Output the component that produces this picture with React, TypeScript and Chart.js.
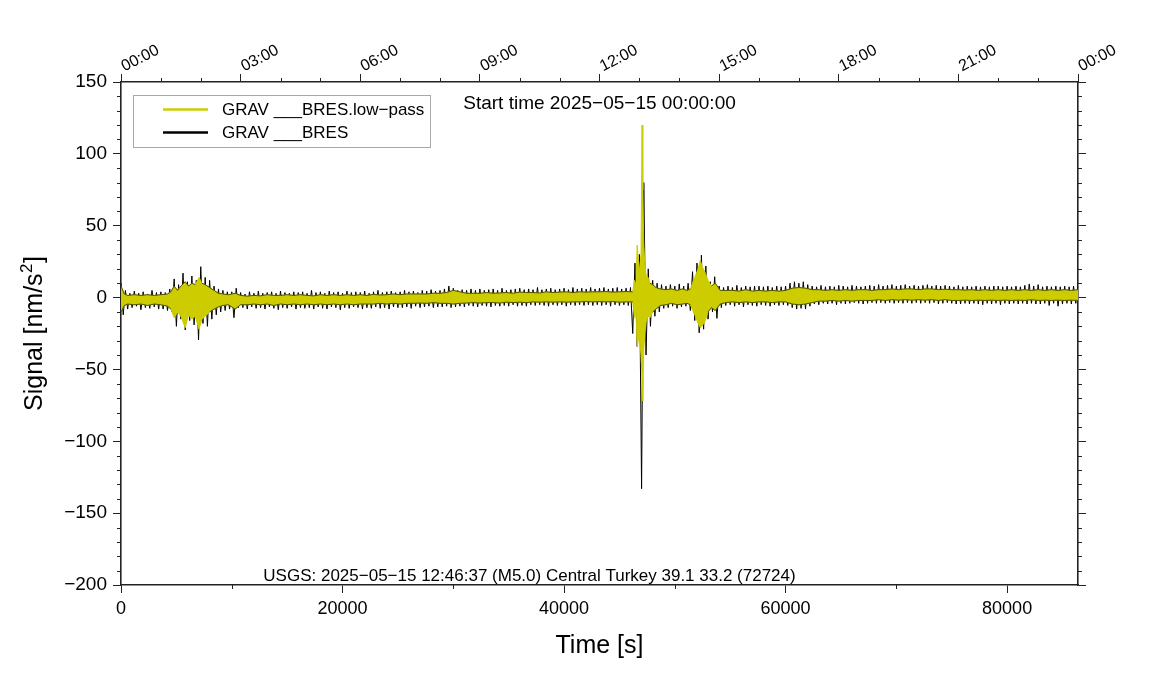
import { useEffect, useRef } from "react";
import { Chart, registerables } from "chart.js";

Chart.register(...registerables);

// ---- data (time in s, signal in nm/s^2) ----

// GRAV ___BRES (raw trace), one value every 200 s (one row = one hour)
const rawDt = 200;
const rawTrace = [
  10, -12, 5, -8, 3, -7, 4.5, -6, 3, -8.5, 4, -7, 2.5, -7.5, 5, -6.5, 3.5, -8,
  4, -8, 3.5, -9, 6, -10, 13, -20, 9, -15, 17, -22.5, 11, -16, 15, -19, 12, -29.5,
  21.5, -18, 14, -20, 12, -15, 8, -12, 6, -10, 5, -9, 4, -8, 4, -14, 6.5, -7,
  3.5, -7, 2.5, -8, 4, -6.5, 3, -7.5, 4.5, -7, 3, -8, 3.5, -6.5, 4, -7.5, 3, -8.5,
  4.5, -7, 3.5, -7.5, 3, -6.5, 4, -8, 3.5, -7, 4, -7.5, 3, -7, 5, -8, 3.5, -6.5,
  4, -7.5, 3, -8, 4.5, -6.5, 3.5, -7, 4, -8.5, 3, -7, 4.5, -7.5, 3.5, -6.5, 4, -7,
  3.5, -8, 4.5, -7, 3, -7.5, 4, -6.5, 5, -7.5, 3.5, -7, 4, -8, 4.5, -6.5, 3.5, -7,
  4, -7, 5, -6.5, 4, -7.5, 4.5, -6, 3.5, -7, 5, -6.5, 4.5, -6, 5.5, -7, 4.5, -6.5,
  5, -6.5, 6, -6, 8, -7, 6.5, -6.5, 5, -6, 5.5, -6.5, 5, -5.5, 6, -6, 5, -6.5,
  6, -5.5, 5, -6, 5.5, -6.5, 6, -5.5, 5, -6, 6.5, -5.5, 5, -6, 5.5, -5, 6, -6,
  6.5, -5.5, 5.5, -6, 6, -5, 5.5, -5.5, 7, -5, 5.5, -5.5, 6, -6, 6.5, -5, 5.5, -5.5,
  6, -5, 6.5, -6, 5.5, -5, 7, -5.5, 6, -5, 6.5, -5.5, 6, -5, 7, -5.5, 6, -5,
  6.5, -5.5, 7, -5, 6, -6, 6.5, -5, 7, -5.5, 6, -5, 6.5, -5.5, 7, -25, 24, -34,
  30, -133, 80, -40, 20, -20, 12, -13, 10, -10, 9, -7.5, 8, -7, 9, -6, 8, -7.5,
  9.5, -6.5, 8, -6, 10, -9, 18, -16, 24, -24.5, 29.5, -22, 22, -15, 11, -10, 14.5, -14.5,
  8, -7, 7, -5.5, 8, -5, 7, -6, 8.5, -5, 7, -6.5, 8, -5, 7.5, -5.5, 8, -6,
  8, -5, 7.5, -5.5, 8, -6, 7, -5, 8, -5.5, 7.5, -5, 8, -5.5, 10, -7, 11, -8,
  10, -7.5, 11, -8, 9, -6, 8, -4.5, 7.5, -5, 8.5, -4, 7.5, -4.5, 8, -4, 7.5, -5,
  8.5, -4, 8, -4.5, 7.5, -4, 8.5, -3.5, 8, -4, 7.5, -4.5, 8, -4, 8.5, -3.5, 8, -4,
  9, -3.5, 8, -4, 8.5, -3.5, 9, -4, 8, -3.5, 8.5, -4, 9, -3.5, 8, -4, 8.5, -3.5,
  8, -4, 8.5, -3.5, 9, -4, 8, -3.5, 8.5, -4.5, 8, -4, 8.5, -3.5, 8, -4, 7.5, -4.5,
  8.5, -4.5, 7.5, -4, 8, -4.5, 7.5, -4, 8, -4.5, 7.5, -5, 8, -4, 7.5, -4.5, 8, -4,
  8, -5, 7.5, -4, 8, -4.5, 7.5, -4, 8, -4.5, 7.5, -4, 8.5, -4.5, 9.5, -4, 8, -4.5,
  9, -4.5, 7.5, -4, 8, -5.5, 7.5, -4, 8, -6, 7.5, -4.5, 8, -4, 7.5, -4.5, 8, -4,
  8,
];

// GRAV ___BRES.low-pass: upper / lower envelope at these times
const lpTimes = [
  0, 300, 600, 1200, 1800, 2400, 3000, 3600, 4200,
  4500, 4800, 5100, 5400, 5800, 6100, 6400, 6700, 7050, 7300, 7600, 8000, 8400, 8800, 9200, 9700, 10300,
  10800, 11400, 12000, 12600, 13200, 13800, 14400, 15000, 15600, 16200, 16800, 17400, 18000, 18600,
  19200, 19800, 20400, 21000, 21600, 22200, 22800, 23400, 24000, 24600, 25200, 25800, 26400, 27000,
  27600, 28200, 28800, 29400, 30000, 30600, 31200, 31800, 32400, 33000, 33600, 34200, 34800, 35400,
  36000, 36600, 37200, 37800, 38400, 39000, 39600, 40200, 40800, 41400, 42000, 42600, 43200, 43800,
  44400, 45000, 45600, 46200,
  46350, 46500, 46600, 46800, 46950, 47040, 47110, 47200, 47300, 47400, 47580, 47760, 48000, 48300, 48700,
  49200, 49700, 50200, 50700, 51100,
  51400, 51800, 52100, 52300, 52450, 52700, 53000, 53300, 53650, 54100,
  54600, 55200, 55800, 56400, 57000, 57600, 58200, 58800, 59400, 60000, 60600, 61200, 61800, 62400,
  63000, 63600, 64200, 64800, 65400, 66000, 66600, 67200, 67800, 68400, 69000, 69600, 70200, 70800,
  71400, 72000, 72600, 73200, 73800, 74400, 75000, 75600, 76200, 76800, 77400, 78000, 78600, 79200,
  79800, 80400, 81000, 81600, 82200, 82800, 83400, 84000, 84600, 85200, 85800, 86400,
];
const lpHi = [
  8, 2.5, 1.5, 2, 1.5, 2, 1.5, 2, 2.5,
  4, 8, 5, 8, 11, 8, 10, 9, 14, 10, 9, 7, 5, 3, 2.5, 2, 3,
  1.5, 1, 1.5, 1.2, 2, 1.5, 1.5, 2, 1.5, 2, 1.5, 1.2, 2, 1.5,
  2, 1.5, 2, 1.5, 2, 1.5, 2.2, 1.8, 2, 2.5, 2, 2.5, 2.5, 2.5,
  2.5, 3, 3, 3.5, 5, 4, 3, 3, 3, 3.5, 3, 3.2, 3.5, 3,
  3.8, 3.5, 3.5, 3.2, 4, 3.5, 3.8, 4, 3.5, 4, 3.8, 4, 4, 4.2,
  3.8, 4, 4.2, 4,
  12, 9, 36.5, 18, 30, 120, 75, 36, 22, 16, 14, 10, 9, 7, 6,
  5.5, 6, 5, 6, 5,
  6, 14, 20, 26, 22, 18, 12, 8, 10, 5,
  5, 5, 4.5, 5.5, 4.5, 5, 4.5, 5, 4.5, 5, 6.5, 7, 6.5, 5.5,
  5.5, 5, 5.5, 5, 5.5, 5, 5.5, 5.5, 5, 5.5, 5.5, 6, 5.5, 6,
  6, 5.5, 6, 6, 5.5, 5.8, 5.5, 5.5, 5.2, 5.5, 5, 5.5, 5, 5.5,
  5, 5.5, 5, 5.5, 5, 5.5, 5, 5.5, 5, 5.5, 5, 5.5,
];
const lpLo = [
  -10, -5.5, -4.5, -5, -4.5, -5.5, -4.5, -5, -6,
  -8, -14, -10, -13, -21, -12, -15, -13, -22, -15, -13, -10, -8, -6.5, -5.5, -5, -8,
  -5, -5, -4.5, -5, -4.5, -5.5, -4.5, -5, -4.5, -5, -4.5, -5, -4.5, -5,
  -4.5, -5, -4.5, -5, -4.5, -4.5, -4.5, -4, -4.5, -4, -4.5, -4, -4, -3.8,
  -4, -3.5, -4, -4, -4.5, -4, -3.8, -3.5, -3.8, -3.5, -3.5, -3.8, -3.2, -3.5,
  -3.2, -3.5, -3, -3.2, -3, -3.2, -3, -3.2, -3, -3, -2.8, -3, -2.8, -3,
  -2.8, -3.2, -3, -3,
  -14, -10, -34, -26, -40, -55, -72, -35, -25, -17, -13, -14, -10, -8, -5.5,
  -5, -4, -5, -4.5, -4,
  -5, -12, -18, -21, -20, -17, -10, -7, -9, -4.5,
  -3.5, -3, -3.5, -3, -3.5, -3, -3, -3.5, -3, -3, -4.5, -5, -4.5, -3.5,
  -2.5, -2.5, -2, -2.5, -2, -2.5, -2, -2, -2, -1.5, -2, -1.5, -1.8, -1.5,
  -1.8, -1.5, -1.8, -1.5, -2, -1.5, -2, -2, -1.8, -2, -1.8, -2, -1.8, -2,
  -1.8, -2, -1.8, -2, -1.5, -2, -1.8, -2, -1.8, -2, -1.8, -2,
];

const xTicks = [0, 20000, 40000, 60000, 80000];
const xMinorTicks = [10000, 30000, 50000, 70000];
const yTicks = [-200, -150, -100, -50, 0, 50, 100, 150];
const hourTicks = [0, 10800, 21600, 32400, 43200, 54000, 64800, 75600, 86400];
const hourLabels = ["00:00", "03:00", "06:00", "09:00", "12:00", "15:00", "18:00", "21:00", "00:00"];

const seriesLowPass = "GRAV ___BRES.low\u2212pass";
const seriesRaw = "GRAV ___BRES";
const startText = "Start time 2025\u221205\u221215 00:00:00";
const eventText = "USGS: 2025\u221205\u221215 12:46:37 (M5.0) Central Turkey 39.1 33.2 (72724)";
const xTitle = "Time [s]";
const yTitleMain = "Signal [nm/s";
const yTitleSup = "2";
const yTitleEnd = "]";

const YELLOW = "rgb(204,204,0)";
const RIM = "rgba(0,0,0,0.6)";
const FRAME = "#222";
const FONT = '"Liberation Sans", Arial, Helvetica, sans-serif';

const envPts = (vals: number[]) => lpTimes.map((t, i) => ({ x: t, y: vals[i] }));
const rawPts = rawTrace.map((v, i) => ({ x: i * rawDt, y: v }));
const minus = (v: number) => String(v).replace("-", "\u2212");
// dark rim along the quiet parts of the low-pass band, none on the large swings
const rimColor = (c: any) =>
  Math.abs(c.p0.parsed.y) > 11 || Math.abs(c.p1.parsed.y) > 11 ? "rgba(0,0,0,0)" : RIM;

const decor = {
  id: "decor",
  afterDraw(chart: any) {
    const ctx = chart.ctx as CanvasRenderingContext2D;
    const { left, right, top, bottom } = chart.chartArea;
    const xs = chart.scales.x;
    const ys = chart.scales.y;
    ctx.save();
    // minor ticks
    ctx.strokeStyle = FRAME;
    ctx.lineWidth = 1;
    ctx.beginPath();
    for (let v = -190; v < 150; v += 10) {
      if (v % 50 === 0) continue;
      const py = Math.round(ys.getPixelForValue(v)) + 0.5;
      ctx.moveTo(left - 4, py);
      ctx.lineTo(left, py);
      ctx.moveTo(right, py);
      ctx.lineTo(right + 4, py);
    }
    for (const v of xMinorTicks) {
      const px = Math.round(xs.getPixelForValue(v)) + 0.5;
      ctx.moveTo(px, bottom);
      ctx.lineTo(px, bottom + 4);
    }
    for (let h = 0; h <= 24; h++) {
      if (h % 3 === 0) continue;
      const px = Math.round(xs.getPixelForValue(h * 3600)) + 0.5;
      ctx.moveTo(px, top);
      ctx.lineTo(px, top - 4);
    }
    ctx.stroke();

    ctx.fillStyle = "#000";
    // rotated time-of-day labels on top
    ctx.font = `16px ${FONT}`;
    ctx.textAlign = "left";
    ctx.textBaseline = "alphabetic";
    hourTicks.forEach((v, i) => {
      const px = xs.getPixelForValue(v);
      ctx.save();
      ctx.translate(px + 3.5, top - 10.5);
      ctx.rotate((-27 * Math.PI) / 180);
      ctx.fillText(hourLabels[i], 0, 0);
      ctx.restore();
    });

    // legend
    ctx.fillStyle = "#fff";
    ctx.fillRect(133.5, 95.5, 297, 52);
    ctx.strokeStyle = "#a8a8a8";
    ctx.lineWidth = 1;
    ctx.strokeRect(133.5, 95.5, 297, 52);
    ctx.lineWidth = 2.6;
    ctx.strokeStyle = YELLOW;
    ctx.beginPath();
    ctx.moveTo(163, 109.5);
    ctx.lineTo(208, 109.5);
    ctx.stroke();
    ctx.strokeStyle = "#000";
    ctx.beginPath();
    ctx.moveTo(163, 132.5);
    ctx.lineTo(208, 132.5);
    ctx.stroke();
    ctx.fillStyle = "#000";
    ctx.font = `17px ${FONT}`;
    ctx.textBaseline = "middle";
    ctx.fillText(seriesLowPass, 222, 110.5);
    ctx.fillText(seriesRaw, 222, 133.5);

    // annotations
    ctx.textAlign = "center";
    ctx.font = `19px ${FONT}`;
    ctx.fillText(startText, (left + right) / 2, 104);
    ctx.font = `17px ${FONT}`;
    ctx.fillText(eventText, 529.5, 576);

    // axis titles
    ctx.font = `25px ${FONT}`;
    ctx.fillText(xTitle, (left + right) / 2, 646);
    ctx.save();
    ctx.translate(35, (top + bottom) / 2);
    ctx.rotate(-Math.PI / 2);
    const wMain = ctx.measureText(yTitleMain).width;
    const wEnd = ctx.measureText(yTitleEnd).width;
    ctx.font = `17px ${FONT}`;
    const wSup = ctx.measureText(yTitleSup).width + 1;
    const total = wMain + wSup + wEnd;
    const x0 = -total / 2;
    ctx.textAlign = "left";
    ctx.font = `25px ${FONT}`;
    ctx.fillText(yTitleMain, x0, 0);
    ctx.font = `17px ${FONT}`;
    ctx.fillText(yTitleSup, x0 + wMain + 0.5, -8);
    ctx.font = `25px ${FONT}`;
    ctx.fillText(yTitleEnd, x0 + wMain + wSup, 0);
    ctx.restore();
    ctx.restore();
  },
};

const gridOpts = {
  drawOnChartArea: false,
  drawTicks: true,
  tickLength: 8,
  color: FRAME,
  lineWidth: 1,
};
const borderOpts = { display: true, color: FRAME, width: 1.6 };

export default function App() {
  const ref = useRef<HTMLCanvasElement | null>(null);
  useEffect(() => {
    if (!ref.current) return;
    const chart = new Chart(ref.current, {
      type: "line",
      data: {
        datasets: [
          // thin dark rim along the low-pass band edges (drawn on top)
          {
            label: seriesLowPass + " (upper rim)",
            data: envPts(lpHi),
            borderColor: RIM,
            segment: { borderColor: rimColor },
            borderWidth: 1,
            pointRadius: 0,
            fill: false,
          },
          {
            label: seriesLowPass + " (lower rim)",
            data: envPts(lpLo),
            borderColor: RIM,
            segment: { borderColor: rimColor },
            borderWidth: 1,
            pointRadius: 0,
            fill: false,
          },
          // filled low-pass band
          {
            label: seriesLowPass,
            data: envPts(lpHi),
            borderColor: YELLOW,
            borderWidth: 1,
            pointRadius: 0,
            fill: false,
          },
          {
            label: seriesLowPass + " (lower)",
            data: envPts(lpLo),
            borderColor: YELLOW,
            backgroundColor: YELLOW,
            borderWidth: 1,
            pointRadius: 0,
            fill: "-1",
          },
          // raw trace (behind)
          {
            label: seriesRaw,
            data: rawPts,
            borderColor: "#000",
            borderWidth: 1,
            pointRadius: 0,
            fill: false,
          },
        ],
      },
      options: {
        responsive: false,
        animation: false,
        events: [],
        layout: { padding: 0 },
        elements: { line: { tension: 0 } },
        plugins: { legend: { display: false }, tooltip: { enabled: false }, title: { display: false } },
        scales: {
          x: {
            type: "linear",
            position: "bottom",
            min: 0,
            max: 86400,
            afterBuildTicks: (s: any) => {
              s.ticks = xTicks.map((value) => ({ value }));
            },
            afterFit: (s: any) => {
              s.height = 115;
            },
            grid: gridOpts,
            border: borderOpts,
            ticks: {
              font: { family: FONT, size: 18 },
              color: "#000",
              padding: 5,
              maxRotation: 0,
              autoSkip: false,
              callback: (v: any) => String(v),
            },
          },
          x2: {
            type: "linear",
            position: "top",
            min: 0,
            max: 86400,
            afterBuildTicks: (s: any) => {
              s.ticks = hourTicks.map((value) => ({ value }));
            },
            afterFit: (s: any) => {
              s.height = 82;
            },
            grid: gridOpts,
            border: borderOpts,
            ticks: { display: false },
          },
          y: {
            type: "linear",
            position: "left",
            min: -200,
            max: 150,
            afterBuildTicks: (s: any) => {
              s.ticks = yTicks.map((value) => ({ value }));
            },
            afterFit: (s: any) => {
              s.width = 121;
            },
            grid: gridOpts,
            border: borderOpts,
            ticks: {
              font: { family: FONT, size: 19 },
              color: "#000",
              padding: 6,
              autoSkip: false,
              callback: (v: any) => minus(Number(v)),
            },
          },
          y2: {
            type: "linear",
            position: "right",
            min: -200,
            max: 150,
            afterBuildTicks: (s: any) => {
              s.ticks = yTicks.map((value) => ({ value }));
            },
            afterFit: (s: any) => {
              s.width = 73;
            },
            grid: gridOpts,
            border: borderOpts,
            ticks: { display: false },
          },
        },
      },
      plugins: [decor],
    } as any);
    return () => chart.destroy();
  }, []);
  return (
    <div style={{ position: "absolute", left: 0, top: 0, width: 1151, height: 700, background: "#fff" }}>
      <canvas ref={ref} width={1151} height={700} style={{ display: "block", width: 1151, height: 700 }} />
    </div>
  );
}
